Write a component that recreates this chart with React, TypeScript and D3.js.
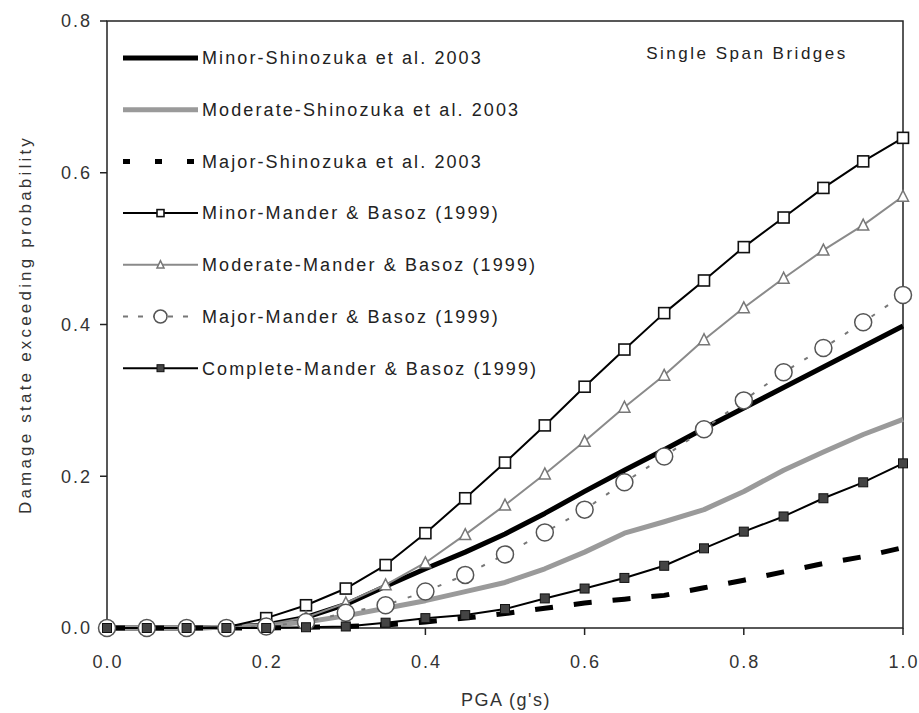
import React from "react";
import * as d3 from "d3";

// PGA (g's) sample points
const pga = [0, 0.05, 0.1, 0.15, 0.2, 0.25, 0.3, 0.35, 0.4, 0.45, 0.5, 0.55, 0.6, 0.65, 0.7, 0.75, 0.8, 0.85, 0.9, 0.95, 1.0];

// Shinozuka et al. 2003
const minorShinozuka = [0, 0, 0, 0.001, 0.004, 0.014, 0.031, 0.055, 0.078, 0.1, 0.124, 0.151, 0.18, 0.208, 0.235, 0.263, 0.29, 0.317, 0.344, 0.371, 0.398];
const moderateShinozuka = [0, 0, 0, 0.001, 0.003, 0.008, 0.016, 0.026, 0.036, 0.048, 0.06, 0.078, 0.1, 0.125, 0.14, 0.156, 0.18, 0.208, 0.232, 0.255, 0.275];
const majorShinozuka = [0, 0, 0, 0, 0, 0.001, 0.002, 0.004, 0.008, 0.013, 0.019, 0.026, 0.033, 0.038, 0.043, 0.053, 0.063, 0.074, 0.085, 0.094, 0.106];

// Mander & Basoz (1999)
const minorMander = [0, 0, 0, 0.001, 0.013, 0.03, 0.052, 0.083, 0.125, 0.171, 0.218, 0.267, 0.318, 0.367, 0.415, 0.458, 0.502, 0.541, 0.58, 0.615, 0.646];
const moderateMander = [0, 0, 0, 0, 0.004, 0.014, 0.033, 0.057, 0.086, 0.123, 0.162, 0.203, 0.246, 0.291, 0.333, 0.38, 0.422, 0.461, 0.498, 0.531, 0.569];
const majorMander = [0, 0, 0, 0, 0.002, 0.008, 0.02, 0.03, 0.048, 0.07, 0.097, 0.126, 0.156, 0.192, 0.226, 0.262, 0.3, 0.337, 0.369, 0.403, 0.439];
const completeMander = [0, 0, 0, 0, 0, 0.001, 0.002, 0.007, 0.013, 0.017, 0.025, 0.039, 0.052, 0.066, 0.082, 0.105, 0.127, 0.147, 0.171, 0.192, 0.217];

const xTicks = [0, 0.2, 0.4, 0.6, 0.8, 1.0];
const yTicks = [0, 0.2, 0.4, 0.6, 0.8];

const legendLabels = [
  "Minor-Shinozuka et al. 2003",
  "Moderate-Shinozuka et al. 2003",
  "Major-Shinozuka et al. 2003",
  "Minor-Mander & Basoz (1999)",
  "Moderate-Mander & Basoz (1999)",
  "Major-Mander & Basoz (1999)",
  "Complete-Mander & Basoz (1999)",
];

const font = "'Liberation Sans', Arial, sans-serif";

type Marker = "none" | "square" | "triangle" | "circle" | "filled";

const MarkerShape = ({ kind, cx, cy, s }: { kind: Marker; cx: number; cy: number; s: number }) => {
  if (kind === "square")
    return <rect x={cx - s / 2} y={cy - s / 2} width={s} height={s} fill="white" stroke="#111" strokeWidth={1.6} />;
  if (kind === "filled")
    return <rect x={cx - s / 2} y={cy - s / 2} width={s} height={s} fill="#444" stroke="#111" strokeWidth={1} />;
  if (kind === "triangle") {
    const h = s * 0.9;
    return (
      <polygon
        points={`${cx},${cy - h / 2 - 1} ${cx - s / 2},${cy + h / 2} ${cx + s / 2},${cy + h / 2}`}
        fill="white"
        stroke="#777"
        strokeWidth={1.5}
      />
    );
  }
  if (kind === "circle") return <circle cx={cx} cy={cy} r={s / 2} fill="white" stroke="#555" strokeWidth={1.5} />;
  return null;
};

const App = () => {
  const width = 919;
  const height = 713;
  const x = d3.scaleLinear().domain([0, 1]).range([107, 903]);
  const y = d3.scaleLinear().domain([0, 0.8]).range([628, 21]);

  const line = (vals: number[]) =>
    d3
      .line<number>()
      .x((_, i) => x(pga[i]))
      .y((v) => y(v))(vals) || "";

  const series = [
    { vals: minorShinozuka, stroke: "#000", sw: 5, dash: "none", legendDash: "none", marker: "none" as Marker, ms: 0 },
    { vals: moderateShinozuka, stroke: "#9a9a9a", sw: 5, dash: "none", legendDash: "none", marker: "none" as Marker, ms: 0 },
    { vals: majorShinozuka, stroke: "#000", sw: 5, dash: "18,21", legendDash: "7,25", marker: "none" as Marker, ms: 0 },
    { vals: minorMander, stroke: "#000", sw: 2, dash: "none", legendDash: "none", marker: "square" as Marker, ms: 11 },
    { vals: moderateMander, stroke: "#8a8a8a", sw: 2, dash: "none", legendDash: "none", marker: "triangle" as Marker, ms: 11 },
    { vals: majorMander, stroke: "#777", sw: 2, dash: "4,12", legendDash: "5,10", marker: "circle" as Marker, ms: 17 },
    { vals: completeMander, stroke: "#000", sw: 2, dash: "none", legendDash: "none", marker: "filled" as Marker, ms: 9 },
  ];

  const legendX1 = 123;
  const legendX2 = 198;
  const legendY = (i: number) => 58 + i * 51.7;

  return (
    <svg width={width} height={height} style={{ position: "absolute", left: 0, top: 0, background: "white" }}>
      {/* Frame */}
      <rect x={x(0)} y={y(0.8)} width={x(1) - x(0)} height={y(0) - y(0.8)} fill="none" stroke="#222" strokeWidth={1.5} />

      {/* Y ticks */}
      {yTicks.map((t) => (
        <g key={`y${t}`}>
          <line x1={x(0) - 7} x2={x(0)} y1={y(t)} y2={y(t)} stroke="#222" strokeWidth={1.5} />
          <text x={92} y={y(t)} dy="0.35em" textAnchor="end" fontFamily={font} fontSize={18} letterSpacing={2} fill="#333">
            {t.toFixed(1)}
          </text>
        </g>
      ))}

      {/* X ticks */}
      {xTicks.map((t) => (
        <g key={`x${t}`}>
          <line x1={x(t)} x2={x(t)} y1={y(0)} y2={y(0) + 7} stroke="#222" strokeWidth={1.5} />
          <text x={x(t) + 1} y={668} textAnchor="middle" fontFamily={font} fontSize={18} letterSpacing={2} fill="#333">
            {t.toFixed(1)}
          </text>
        </g>
      ))}

      {/* Axis titles */}
      <text x={506} y={706} textAnchor="middle" fontFamily={font} fontSize={18} letterSpacing={1.5} fill="#333">
        PGA (g's)
      </text>
      <text
        transform={`translate(31, ${y(0.4)}) rotate(-90)`}
        textAnchor="middle"
        fontFamily={font}
        fontSize={17}
        letterSpacing={3.2}
        fill="#333"
      >
        Damage state exceeding probability
      </text>

      <text x={747} y={59} textAnchor="middle" fontFamily={font} fontSize={17} letterSpacing={2.5} fill="#222">
        Single Span Bridges
      </text>

      {/* Series lines */}
      {series.map((s, i) => (
        <path
          key={`l${i}`}
          d={line(s.vals)}
          fill="none"
          stroke={s.stroke}
          strokeWidth={s.sw}
          strokeDasharray={s.dash}
          strokeLinejoin="round"
        />
      ))}

      {/* Markers */}
      {series.map((s, i) =>
        s.marker === "none"
          ? null
          : s.vals.map((v, j) => <MarkerShape key={`m${i}-${j}`} kind={s.marker} cx={x(pga[j])} cy={y(v)} s={s.ms} />)
      )}

      {/* Legend */}
      {series.map((s, i) => (
        <g key={`lg${i}`}>
          <line
            x1={legendX1}
            x2={legendX2}
            y1={legendY(i)}
            y2={legendY(i)}
            stroke={s.stroke}
            strokeWidth={s.sw}
            strokeDasharray={s.legendDash}
          />
          {s.marker !== "none" && (
            <MarkerShape kind={s.marker} cx={(legendX1 + legendX2) / 2} cy={legendY(i)} s={s.marker === "circle" ? 13 : 7} />
          )}
          <text x={202} y={legendY(i)} dy="0.35em" fontFamily={font} fontSize={18} letterSpacing={2.1} fill="#222">
            {legendLabels[i]}
          </text>
        </g>
      ))}
    </svg>
  );
};

export default App;
